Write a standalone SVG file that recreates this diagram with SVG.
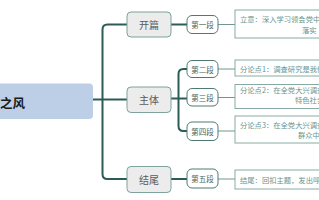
<svg xmlns="http://www.w3.org/2000/svg" width="319" height="200" viewBox="0 0 319 200">
<style>
text{font-family:"Noto Sans CJK SC","Noto Sans",sans-serif}
.l1 rect{fill:#ececec;stroke:#7ea29c;stroke-width:1}
.l1 text{font-size:10px;fill:#5b5b5b;text-anchor:middle;dominant-baseline:central}
.l2 rect{fill:#fff;stroke:#4f7a74;stroke-width:1}
.l2 text{font-size:7.5px;fill:#3f6660;text-anchor:middle;dominant-baseline:central}
.c rect{fill:#fff;stroke:#88aaa4;stroke-width:1}
.c text{font-size:7.3px;fill:#6a938d;dominant-baseline:central}
.thick{fill:none;stroke:#2b5d56;stroke-width:2}
.thin{fill:none;stroke:#6f968f;stroke-width:1}
</style>
<rect width="319" height="200" fill="#fff"/>
<g id="connectors">
<path class="thick" d="M93,99.5H127"/>
<path class="thick" d="M127,24.5H107.5Q102.5,24.5 102.5,29.5V174Q102.5,179 107.5,179H127"/>
<path class="thick" d="M171,24.5H187"/>
<path class="thick" d="M171,179H187"/>
<path class="thick" d="M171,98.5H187"/>
<path class="thick" d="M187,69H183.5Q178.5,69 178.5,74V126Q178.5,131 183.5,131H187"/>
<path class="thin" d="M218,24.5H235"/>
<path class="thin" d="M218,69H235"/>
<path class="thin" d="M218,97.5H235"/>
<path class="thin" d="M218,131H235"/>
<path class="thin" d="M218,179H235"/>
</g>
<g id="root">
<rect x="-10" y="83.5" width="103" height="35.5" rx="4" fill="#bccfe6"/>
<text x="0" y="102" font-size="12.5" font-weight="bold" fill="#1a1a1a" dominant-baseline="central">之风</text>
</g>
<g id="kaipian" class="l1"><rect x="127" y="12" width="44" height="25" rx="4"/><text x="149" y="24.5">开篇</text></g>
<g id="zhuti" class="l1"><rect x="127" y="87" width="44" height="25.5" rx="4"/><text x="149" y="99.5">主体</text></g>
<g id="jiewei" class="l1"><rect x="127" y="166.5" width="44" height="26" rx="4"/><text x="149" y="179.5">结尾</text></g>
<g id="d1" class="l2"><rect x="187" y="15.5" width="31" height="18" rx="5"/><text x="202.5" y="24.5">第一段</text></g>
<g id="d2" class="l2"><rect x="187" y="60.5" width="31" height="17" rx="5"/><text x="202.5" y="69">第二段</text></g>
<g id="d3" class="l2"><rect x="187" y="88.5" width="31" height="17.5" rx="5"/><text x="202.5" y="97.3">第三段</text></g>
<g id="d4" class="l2"><rect x="187" y="122" width="31" height="18.5" rx="5"/><text x="202.5" y="131">第四段</text></g>
<g id="d5" class="l2"><rect x="187" y="169" width="31" height="19" rx="5"/><text x="202.5" y="178.5">第五段</text></g>
<g id="c1" class="c"><rect x="235" y="10" width="100" height="28" /><text x="240" y="18.5">立意：深入学习领会党中</text><text x="302" y="30">落实</text></g>
<g id="c2" class="c"><rect x="235" y="60" width="100" height="16" /><text x="240" y="68.5">分论点1：调查研究是我们</text></g>
<g id="c3" class="c"><rect x="235" y="84.5" width="100" height="24" /><text x="240" y="90">分论点2：在全党大兴调查</text><text x="295" y="99.5">特色社会</text></g>
<g id="c4" class="c"><rect x="235" y="116" width="100" height="27" /><text x="240" y="125">分论点3：在全党大兴调查</text><text x="298" y="135">群众中</text></g>
<g id="c5" class="c"><rect x="235" y="170" width="100" height="19" /><text x="240" y="179.5">结尾：回扣主题，发出呼吁</text></g>
</svg>
